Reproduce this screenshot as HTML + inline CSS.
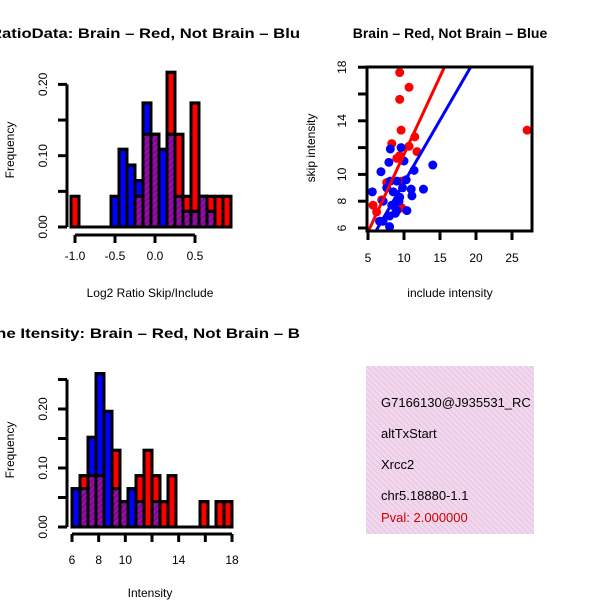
<!DOCTYPE html>
<html><head><meta charset="utf-8"><style>
html,body{margin:0;padding:0;background:#fff;}
svg{display:block;font-family:"Liberation Sans",sans-serif;}
</style></head><body>
<svg id="c" width="600" height="600" viewBox="0 0 600 600">
<defs>
<pattern id="hatch" width="4" height="4" patternUnits="userSpaceOnUse" patternTransform="rotate(45)">
<rect width="4" height="4" fill="#9a10a8"/><rect width="2" height="4" fill="#7a0a90"/>
</pattern>
<pattern id="pinkhatch" width="4" height="4" patternUnits="userSpaceOnUse" patternTransform="rotate(-45)">
<rect width="4" height="4" fill="#f4d6f0"/><rect width="1" height="4" fill="#e0c8d8"/>
</pattern>
</defs>
</svg>
<script>
// ---- Panel 1: ratio histogram ----
const ratioBinStart = -1.05, ratioBinWidth = 0.1;
const ratioRed  = [0.043,0,0,0,0,0,0,0,0.043,0.13,0.13,0,0.217,0.13,0.043,0.174,0.043,0.043,0.043,0.043];
const ratioBlue = [0,0,0,0,0,0.043,0.109,0.087,0.065,0.174,0.13,0.109,0.13,0.043,0.022,0.022,0.043,0.022,0,0];
const ratioXTicks = [-1.0,-0.5,0.0,0.5];
const ratioXLabels = ["-1.0","-0.5","0.0","0.5"];
const ratioYTicks = [0,0.05,0.1,0.15,0.2];
const ratioYLabels = ["0.00","","0.10","","0.20"];
// ---- Panel 2: scatter ----
const redX = [9.4,10.7,9.4,9.6,27.1,11.5,8.3,10.7,11.8,9.4,9.0,7.6,5.7,6.2,6.9,9.7,9.7];
const redY = [17.6,16.5,15.6,13.3,13.3,12.8,12.3,12.1,11.7,11.4,11.2,9.4,7.7,7.2,8.1,9.5,7.5];
const blueX = [5.6,6.8,7.9,8.1,9.6,10,11.4,14,12.7,11,11.1,10.3,9.0,8.1,7.6,7.1,8.3,9,9.4,8.5,9.8,10.4,8.8,8,7.1,8,6.6,9.3,8.6];
const blueY = [8.7,10.2,10.9,11.9,12.0,11.0,10.3,10.7,8.9,8.9,8.4,9.6,9.5,9.5,9.0,8.0,7.7,7.3,8.3,8.7,9.0,7.3,7.1,6.9,6.5,6.1,6.5,8.0,7.7];
const redFit = [-0.1, 1.16];   // intercept, slope
const blueFit = [0.1, 0.93];
const scXTicks = [5,10,15,20,25];
const scYTicks = [6,8,10,14,18];
const scYMinor = [6,8,10,12,14,16,18];
// ---- Panel 3: intensity histogram ----
const intBinStart = 6, intBinWidth = 0.6;
const intRed  = [0,0.087,0.087,0.087,0,0.13,0.043,0,0.087,0.13,0.087,0.043,0.087,0,0,0,0.043,0,0.043,0.043];
const intBlue = [0.065,0.065,0.152,0.26,0.196,0.065,0.043,0.065,0.043,0,0.043,0,0,0,0,0,0,0,0,0];
const intXTicks = [6,8,10,12,14,16,18];
const intXLabels = ["6","8","10","","14","","18"];
const intYTicks = [0,0.05,0.1,0.15,0.2,0.25];
const intYLabels = ["0.00","","0.10","","0.20",""];
const infoLines = ["G7166130@J935531_RC","altTxStart","Xrcc2","chr5.18880-1.1"];
const pvalText = "Pval: 2.000000";

const svg = document.getElementById('c');
const NS = "http://www.w3.org/2000/svg";
function mk(tag, attrs, parent){
  const e = document.createElementNS(NS, tag);
  for (const k in attrs) e.setAttribute(k, attrs[k]);
  (parent||svg).appendChild(e); return e;
}
function txt(s, x, y, size, opts, parent){
  const t = mk('text', Object.assign({x:x, y:y, 'font-size':size, 'text-anchor':'middle', fill:'#000'}, opts||{}), parent);
  t.textContent = s; return t;
}

function hist(g, red, blue, start, width, sx, sy){
  for (let i=0;i<red.length;i++){
    const x0 = sx(start+i*width), x1 = sx(start+(i+1)*width);
    const r = red[i], b = blue[i], m = Math.min(r,b);
    if (r>0){ const e = mk('rect',{x:x0,y:sy(r),width:x1-x0,height:sy(0)-sy(r),fill:'#ff0000',stroke:'#000','stroke-width':3},g);
      
       }
    if (b>0){ const e = mk('rect',{x:x0,y:sy(b),width:x1-x0,height:sy(0)-sy(b),fill:'#0000ff',stroke:'#000','stroke-width':3},g);
      
       }
    if (m>0){ const e = mk('rect',{x:x0,y:sy(m),width:x1-x0,height:sy(0)-sy(m),fill:'url(#hatch)',stroke:'#000','stroke-width':3},g);
      
       }
  }
  for (let i=0;i<red.length;i++){
    const x0 = sx(start+i*width), x1 = sx(start+(i+1)*width);
    const mx = Math.max(red[i],blue[i]);
    if (mx>0) mk('rect',{x:x0,y:sy(mx),width:x1-x0,height:sy(0)-sy(mx),fill:'none',stroke:'#000','stroke-width':3},g);
  }
  mk('line',{x1:sx(start),x2:sx(start+red.length*width),y1:sy(0),y2:sy(0),stroke:'#000','stroke-width':3},g);
}

// Panel 1
{
  const g = mk('g',{});  
  const sx = v => 155 + (v-0.0)*80;
  const sy = v => 227 - v*713;
  hist(g, ratioRed, ratioBlue, ratioBinStart, ratioBinWidth, sx, sy);
  mk('line',{x1:67,x2:67,y1:sy(0),y2:sy(0.2),stroke:'#000','stroke-width':3},g);
  ratioYTicks.forEach((v,i)=>{
    mk('line',{x1:58,x2:67,y1:sy(v),y2:sy(v),stroke:'#000','stroke-width':3},g);
    if (ratioYLabels[i]) { const t=txt(ratioYLabels[i],0,0,12,{transform:`translate(47,${sy(v)}) rotate(-90)`},g);   }
  });
  mk('line',{x1:sx(-1),x2:sx(0.5),y1:235,y2:235,stroke:'#000','stroke-width':3},g);
  ratioXTicks.forEach((v,i)=>{
    mk('line',{x1:sx(v),x2:sx(v),y1:235,y2:243,stroke:'#000','stroke-width':3},g);
    const t=txt(ratioXLabels[i],sx(v),260,12,{},g);  
  });
  const t1=txt('RatioData: Brain – Red, Not Brain – Blu',-10,38,14,{'text-anchor':'start','font-weight':'bold',textLength:310,lengthAdjust:'spacingAndGlyphs'},g);
   
  const t2=txt('Log2 Ratio Skip/Include',150,297,12,{},g);  
  const t3=txt('Frequency',0,0,12,{transform:'translate(14,150) rotate(-90)'},g);  
}

// Panel 2
{
  const g = mk('g',{});  
  const sx = v => 368 + (v-5)*7.2;
  const sy = v => 228 - (v-6)*13.4;
  const cp = mk('clipPath',{id:'scclip'}); mk('rect',{x:367,y:67,width:165,height:164},cp);
  const inner = mk('g',{'clip-path':'url(#scclip)'},g);
  redX.forEach((x,i)=>{ const c=mk('circle',{cx:sx(x),cy:sy(redY[i]),r:4.5,fill:'#ff0000'},inner);
      });
  blueX.forEach((x,i)=>{ const c=mk('circle',{cx:sx(x),cy:sy(blueY[i]),r:4.5,fill:'#0000ff'},inner);
      });
  const fit=(f,col,nm)=>{ const xa=3, xb=30; const l=mk('line',{x1:sx(xa),y1:sy(f[0]+f[1]*xa),x2:sx(xb),y2:sy(f[0]+f[1]*xb),stroke:col,'stroke-width':3},inner);
      };
  fit(redFit,'#ff0000','fit-line-red'); fit(blueFit,'#0000ff','fit-line-blue');
  mk('rect',{x:367,y:67,width:165,height:164,fill:'none',stroke:'#000','stroke-width':3},g);
  scYMinor.forEach(v=>mk('line',{x1:358,x2:367,y1:sy(v),y2:sy(v),stroke:'#000','stroke-width':3},g));
  scYTicks.forEach(v=>{ const t=txt(String(v),0,0,12,{transform:`translate(346,${sy(v)}) rotate(-90)`},g);   });
  scXTicks.forEach(v=>{ mk('line',{x1:sx(v),x2:sx(v),y1:231,y2:240,stroke:'#000','stroke-width':3},g);
    const t=txt(String(v),sx(v),262,12,{},g);   });
  const t1=txt('Brain – Red, Not Brain – Blue',450,38,14,{'font-weight':'bold'},g);  
  const t2=txt('include intensity',450,297,12,{},g);  
  const t3=txt('skip intensity',0,0,12,{transform:'translate(315,148) rotate(-90)'},g);  
}

// Panel 3
{
  const g = mk('g',{});  
  const sx = v => 72 + (v-6)*13.333;
  const sy = v => 527 - v*590;
  hist(g, intRed, intBlue, intBinStart, intBinWidth, sx, sy);
  mk('line',{x1:67,x2:67,y1:sy(0),y2:sy(0.25),stroke:'#000','stroke-width':3},g);
  intYTicks.forEach((v,i)=>{
    mk('line',{x1:58,x2:67,y1:sy(v),y2:sy(v),stroke:'#000','stroke-width':3},g);
    if (intYLabels[i]) { const t=txt(intYLabels[i],0,0,12,{transform:`translate(47,${sy(v)}) rotate(-90)`},g);   }
  });
  mk('line',{x1:sx(6),x2:sx(18),y1:534,y2:534,stroke:'#000','stroke-width':3},g);
  intXTicks.forEach((v,i)=>{
    mk('line',{x1:sx(v),x2:sx(v),y1:534,y2:542,stroke:'#000','stroke-width':3},g);
    if (intXLabels[i]) { const t=txt(intXLabels[i],sx(v),564,12,{},g);   }
  });
  const t1=txt('ne Itensity: Brain – Red, Not Brain – B',-4,338,14,{'text-anchor':'start','font-weight':'bold',textLength:304,lengthAdjust:'spacingAndGlyphs'},g);
   
  const t2=txt('Intensity',150,597,12,{},g);  
  const t3=txt('Frequency',0,0,12,{transform:'translate(14,450) rotate(-90)'},g);  
}

// Panel 4 info box
{
  const g = mk('g',{});  
  const cp = mk('clipPath',{id:'infoclip'}); mk('rect',{x:366,y:366,width:168,height:168},cp);
  mk('rect',{x:366,y:366,width:168,height:168,fill:'url(#pinkhatch)'},g);
  const inner = mk('g',{'clip-path':'url(#infoclip)'},g);
  const ys=[407,438,469,500];
  infoLines.forEach((s,i)=>{ const t=txt(s,381,ys[i],13,{'text-anchor':'start'},inner);   });
  const p=txt(pvalText,381,522,13,{'text-anchor':'start',fill:'#cc0000'},inner);  
}
</script>
</body></html>
